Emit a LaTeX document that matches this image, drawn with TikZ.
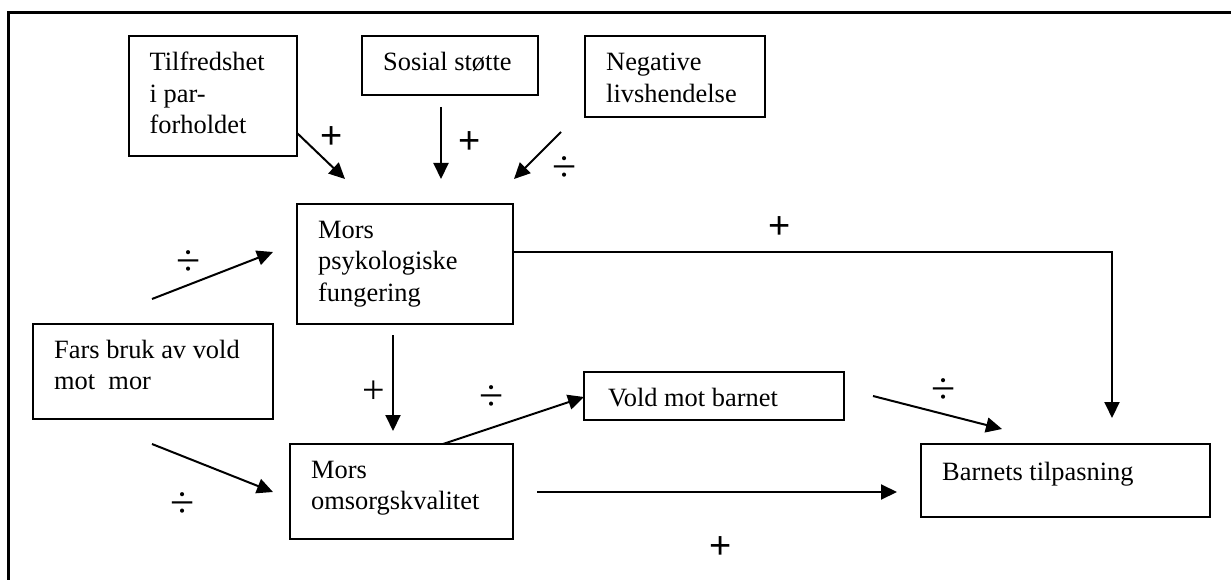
\documentclass[tikz,border=0pt]{standalone}
\usepackage{fontspec}
\setmainfont{Liberation Serif}
\newfontfamily\symsans{Liberation Sans}
\usetikzlibrary{arrows.meta,calc}
\begin{document}
\begin{tikzpicture}[x=1pt,y=-1pt,
  bx/.style={draw, line width=2.7pt, inner sep=0pt, outer sep=0pt, anchor=north west},
  tx/.style={anchor=base west, inner sep=0pt, font=\fontsize{26.4}{31.5}\selectfont},
  conn/.style={line width=2pt, -{Triangle[length=16pt,width=15pt]}},
  plusbig/.style={inner sep=0pt, font=\symsans\fontsize{38}{38}\selectfont},
  plussmall/.style={inner sep=0pt, font=\fontsize{40}{40}\selectfont},
  divsign/.style={inner sep=0pt, font=\fontsize{44}{44}\selectfont}
]
\useasboundingbox (0,0) rectangle (1231,580);
% outer frame (open at right and bottom)
\draw[line width=3.3pt] (8.5,580) -- (8.5,12.5) -- (1231,12.5);

% boxes
\node[bx, minimum width=168pt, minimum height=120pt] (tilf) at (129,36) {};
\node[bx, minimum width=176pt, minimum height=59pt]  (sos)  at (362,36) {};
\node[bx, minimum width=180pt, minimum height=81pt]  (neg)  at (585,36) {};
\node[bx, minimum width=216pt, minimum height=120pt] (psyk) at (297,204) {};
\node[bx, minimum width=240pt, minimum height=95pt]  (fars) at (33,324) {};
\node[bx, minimum width=223pt, minimum height=95pt]  (oms)  at (290,444) {};
\node[bx, minimum width=260pt, minimum height=48pt]  (vold) at (584,372) {};
\node[bx, minimum width=289pt, minimum height=73pt]  (barn) at (921,444) {};

% texts
\node[tx] (tilf-t) at ($(tilf.north west)+(20.5,35)$) {\begin{tabular}[t]{@{}l@{}}Tilfredshet\\i par-\\forholdet\end{tabular}};
\node[tx] (sos-t)  at ($(sos.north west)+(21,35)$) {\begin{tabular}[t]{@{}l@{}}Sosial støtte\end{tabular}};
\node[tx] (neg-t)  at ($(neg.north west)+(21,35)$) {\begin{tabular}[t]{@{}l@{}}Negative\\livshendelse\end{tabular}};
\node[tx] (psyk-t) at ($(psyk.north west)+(21,34)$) {\begin{tabular}[t]{@{}l@{}}Mors\\psykologiske\\fungering\end{tabular}};
\node[tx] (fars-t) at ($(fars.north west)+(21,34)$) {\begin{tabular}[t]{@{}l@{}}Fars bruk av vold\\mot\ \ mor\end{tabular}};
\node[tx] (oms-t)  at ($(oms.north west)+(21,34)$) {\begin{tabular}[t]{@{}l@{}}Mors\\omsorgskvalitet\end{tabular}};
\node[tx] (vold-t) at ($(vold.north west)+(24,34)$) {\begin{tabular}[t]{@{}l@{}}Vold mot barnet\end{tabular}};
\node[tx] (barn-t) at ($(barn.north west)+(21,36)$) {\begin{tabular}[t]{@{}l@{}}Barnets tilpasning\end{tabular}};

% free connector ends
\coordinate (a1e) at (345,179);
\coordinate (a2s) at (441,107);
\coordinate (a2e) at (441,179);
\coordinate (a3s) at (561,132);
\coordinate (a3e) at (514,179);
\coordinate (a4s) at (152,299);
\coordinate (a4e) at (273,252);
\coordinate (a5e) at (1112,418);
\coordinate (a6s) at (393,335);
\coordinate (a6e) at (393,431);
\coordinate (a7s) at (152,444);
\coordinate (a7e) at (273,492);
\coordinate (a9s) at (873,396);
\coordinate (a9e) at (1002,429);
\coordinate (a10s) at (537,492);
\coordinate (a10e) at (897,492);

% connectors
\draw[conn] ($(tilf.south east)+(0,-23)$) -- (a1e);
\draw[conn] (a2s) -- (a2e);
\draw[conn] (a3s) -- (a3e);
\draw[conn] (a4s) -- (a4e);
\draw[conn] ($(psyk.north east)+(0,48)$) -| (a5e);
\draw[conn] (a6s) -- (a6e);
\draw[conn] (a7s) -- (a7e);
\draw[conn] ($(oms.north west)+(153,0)$) -- ($(vold.north west)+(0,25)$);
\draw[conn] (a9s) -- (a9e);
\draw[conn] (a10s) -- (a10e);

% signs
\node[plusbig] (s1) at (332,138) {+};
\node[plusbig] (s2) at (470,143) {+};
\node[divsign] (s3) at (565,169) {÷};
\node[divsign] (s4) at (189,263) {÷};
\node[plusbig] (s5) at (780,228) {+};
\node[plussmall] (s6) at (374,392) {+};
\node[divsign] (s7) at (492,398) {÷};
\node[divsign] (s8) at (183,505) {÷};
\node[divsign] (s9) at (944,391) {÷};
\node[plusbig] (s10) at (721,548) {+};
\end{tikzpicture}
\end{document}
